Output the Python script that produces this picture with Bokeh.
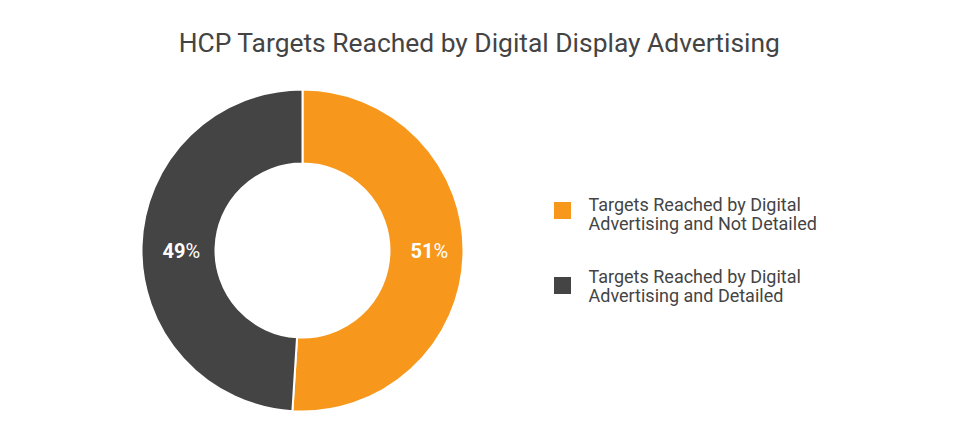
import math
from bokeh.plotting import figure
from bokeh.models import ColumnDataSource, Range1d
from bokeh.core.properties import value
from bokeh.embed import file_html
from bokeh.resources import INLINE

# ---- data ----
title_text = "HCP Targets Reached by Digital Display Advertising"
categories = ["Targets Reached by Digital\nAdvertising and Not Detailed",
              "Targets Reached by Digital\nAdvertising and Detailed"]
values = [51, 49]
colors = ["#F7981D", "#444444"]

W, H = 944, 428
p = figure(width=W, height=H, output_backend="svg", toolbar_location=None,
           x_range=Range1d(0, W), y_range=Range1d(0, H),
           min_border=0, min_border_left=0, min_border_right=0,
           min_border_top=0, min_border_bottom=0)
p.axis.visible = False
p.grid.visible = False
p.outline_line_color = None
p.background_fill_color = "white"
p.border_fill_color = "white"

FONT = value("Roboto")
def sy(y):  # screen y -> data y
    return H - y
def sx(x):
    return x

cx, cy = sx(302), sy(250)
r_in, r_out = 87, 161

total = sum(values)
starts, ends, mids = [], [], []
a = math.pi / 2
for v in values:
    sweep = 2 * math.pi * v / total
    starts.append(a)
    ends.append(a - sweep)
    mids.append(a - sweep / 2)
    a -= sweep

src = ColumnDataSource(dict(start=starts, end=ends, color=colors))
p.annular_wedge(x=cx, y=cy, inner_radius=r_in, outer_radius=r_out,
                start_angle="start", end_angle="end", direction="clock",
                fill_color="color", line_color="white", line_width=2, source=src)

# percentage labels
rl = (r_in + r_out) / 2
lx = [cx + rl * math.cos(m) for m in mids]
ly = [cy for m in mids]
nums = [str(v) for v in values]
p.text(x=lx, y=ly, text=nums, text_align="right", text_baseline="middle",
       text_font=FONT, text_font_size="20px", text_font_style="bold",
       text_color="white", x_offset=7)
p.text(x=lx, y=ly, text=["%"] * len(values), text_align="left", text_baseline="middle",
       text_font=FONT, text_font_size="20px", text_color="white", x_offset=7)

# title
p.text(x=[sx(479)], y=[sy(42)], text=[title_text], text_align="center",
       text_baseline="alphabetic", text_font=FONT, text_font_size="26.4px",
       text_color="#444444")

# legend
sq_y = [sy(210), sy(285)]
p.rect(x=[sx(562)] * 2, y=sq_y, width=17, height=17, fill_color=colors, line_color=None)
base_y = [sy(204), sy(276)]
for i, cat in enumerate(categories):
    lines = cat.split("\n")
    p.text(x=[sx(588)] * len(lines),
           y=[base_y[i] - 18.5 * k for k in range(len(lines))],
           text=lines, text_align="left", text_baseline="alphabetic",
           text_font=FONT, text_font_size="18px", text_color="#444444")

open("out.html", "w").write(file_html(p, INLINE))
